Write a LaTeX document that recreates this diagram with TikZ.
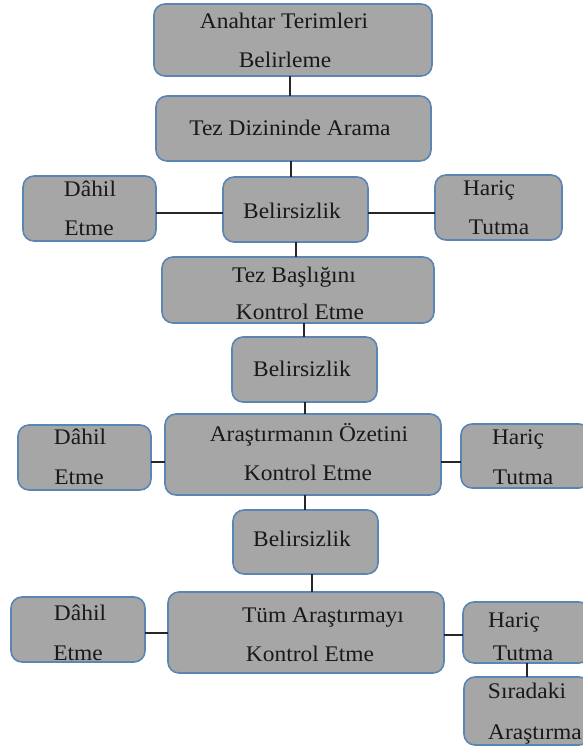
\documentclass[tikz,border=0pt]{standalone}
\usepackage{fontspec}
\setmainfont[FakeStretch=1.05]{Liberation Serif}
\definecolor{boxgray}{HTML}{A6A6A6}
\definecolor{boxline}{HTML}{5B86B3}
\tikzset{
  box/.style={draw=boxline, fill=boxgray, line width=1.6pt, rounded corners=11pt, inner sep=0pt, outer sep=0pt},
  txt/.style={font=\fontsize{22.3}{24}\selectfont, text=black!90, inner sep=0pt, anchor=base},
  conn/.style={draw=black!85, line width=1.3pt}
}
\newcommand\bx[5]{\node[box, minimum width={#4pt-#2pt}, minimum height={#5pt-#3pt}] (#1) at ({(#2+#4)/2},{(#3+#5)/2}) {};}
\begin{document}
\begin{tikzpicture}[x=1pt,y=-1pt]
\clip (0,0) rectangle (583,747);
% boxes
\bx{b1}{154}{4}{432}{76}
\bx{b2}{156}{96}{431}{161}
\bx{d1}{23}{176}{156}{241}
\bx{bel1}{223}{177}{368}{242}
\bx{h1}{435}{175}{562}{240}
\bx{b4}{162}{257}{434}{323}
\bx{bel2}{232}{337}{377}{402}
\bx{d2}{18}{425}{151}{490}
\bx{b6}{165}{414}{441}{495}
\bx{h2}{461}{424}{590}{488}
\bx{bel3}{233}{510}{378}{574}
\bx{d3}{11}{597}{145}{662}
\bx{b8}{168}{592}{444}{673}
\bx{h3}{463}{602}{590}{663}
\bx{s}{464}{677}{590}{745}
% texts
\node[txt] at (284,28) {Anahtar Terimleri};
\node[txt] at (285,67) {Belirleme};
\node[txt] at (290,135) {Tez Dizininde Arama};
\node[txt] at (292,218) {Belirsizlik};
\node[txt] at (90,196) {Dâhil};
\node[txt] at (89,235) {Etme};
\node[txt] at (489,195) {Hariç};
\node[txt] at (499,234) {Tutma};
\node[txt] at (294,282) {Tez Başlığını};
\node[txt] at (300,319) {Kontrol Etme};
\node[txt] at (302,376) {Belirsizlik};
\node[txt] at (309,441) {Araştırmanın Özetini};
\node[txt] at (308,480) {Kontrol Etme};
\node[txt] at (80,444) {Dâhil};
\node[txt] at (79,484) {Etme};
\node[txt] at (518,444) {Hariç};
\node[txt] at (523,484) {Tutma};
\node[txt] at (302,546) {Belirsizlik};
\node[txt] at (323,622) {Tüm Araştırmayı};
\node[txt] at (310,661) {Kontrol Etme};
\node[txt] at (80,620) {Dâhil};
\node[txt] at (78,660) {Etme};
\node[txt] at (514,627) {Hariç};
\node[txt] at (523,660) {Tutma};
\node[txt] at (527,698) {Sıradaki};
\node[txt] at (535,739) {Araştırma};
% connector guide coordinates
\coordinate (v1) at (290,0);
\coordinate (v2) at (291,0);
\coordinate (v3) at (296,0);
\coordinate (v4) at (304,0);
\coordinate (v5) at (305,0);
\coordinate (v6) at (312,0);
\coordinate (v7) at (527,0);
\coordinate (r1) at (0,213);
\coordinate (r2) at (0,462);
\coordinate (r3) at (0,633);
\coordinate (r4) at (0,635);
% connectors
\draw[conn] (b1.south -| v1) -- (b2.north -| v1);
\draw[conn] (b2.south -| v2) -- (bel1.north -| v2);
\draw[conn] (d1.east |- r1) -- (bel1.west |- r1);
\draw[conn] (bel1.east |- r1) -- (h1.west |- r1);
\draw[conn] (bel1.south -| v3) -- (b4.north -| v3);
\draw[conn] (b4.south -| v4) -- (bel2.north -| v4);
\draw[conn] (bel2.south -| v5) -- (b6.north -| v5);
\draw[conn] (d2.east |- r2) -- (b6.west |- r2);
\draw[conn] (b6.east |- r2) -- (h2.west |- r2);
\draw[conn] (b6.south -| v5) -- (bel3.north -| v5);
\draw[conn] (bel3.south -| v6) -- (b8.north -| v6);
\draw[conn] (d3.east |- r3) -- (b8.west |- r3);
\draw[conn] (b8.east |- r4) -- (h3.west |- r4);
\draw[conn] (h3.south -| v7) -- (s.north -| v7);
\end{tikzpicture}
\end{document}
